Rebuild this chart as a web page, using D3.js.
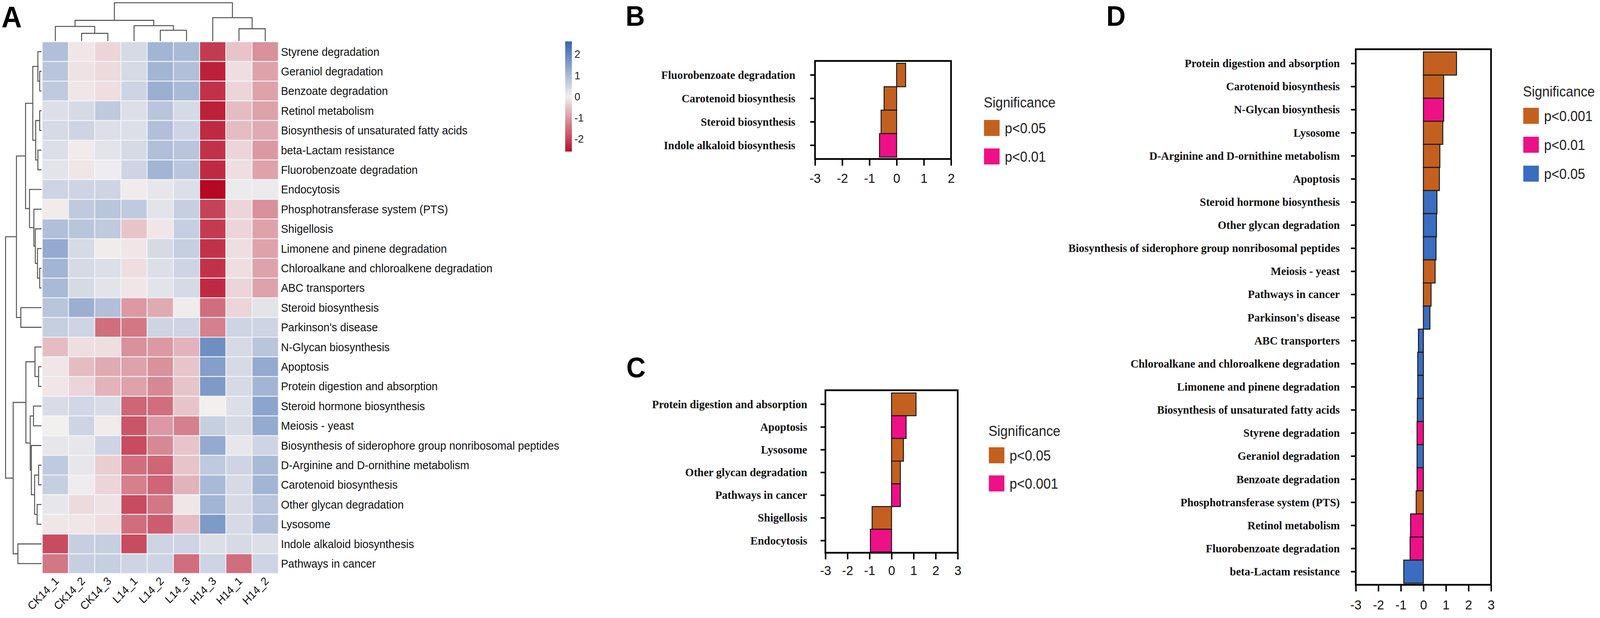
<!DOCTYPE html>
<html>
<head>
<meta charset="utf-8">
<script src="https://cdn.jsdelivr.net/npm/d3@7"></script>
<style>
  html, body { margin: 0; padding: 0; background: #ffffff; overflow: hidden; width: 100%; height: 100%; }
  svg { display: block; width: 100vw; height: 100vh; }
</style>
</head>
<body>
<svg id="chart" viewBox="0 0 4317 1582" preserveAspectRatio="none"></svg>
<script>
// ---------------- DATA ----------------
const heatRows = [
  "Styrene degradation", "Geraniol degradation", "Benzoate degradation", "Retinol metabolism",
  "Biosynthesis of unsaturated fatty acids", "beta-Lactam resistance", "Fluorobenzoate degradation",
  "Endocytosis", "Phosphotransferase system (PTS)", "Shigellosis", "Limonene and pinene degradation",
  "Chloroalkane and chloroalkene degradation", "ABC transporters", "Steroid biosynthesis",
  "Parkinson's disease", "N-Glycan biosynthesis", "Apoptosis", "Protein digestion and absorption",
  "Steroid hormone biosynthesis", "Meiosis - yeast",
  "Biosynthesis of siderophore group nonribosomal peptides", "D-Arginine and D-ornithine metabolism",
  "Carotenoid biosynthesis", "Other glycan degradation", "Lysosome", "Indole alkaloid biosynthesis",
  "Pathways in cancer"
];
const heatCols = ["CK14_1", "CK14_2", "CK14_3", "L14_1", "L14_2", "L14_3", "H14_3", "H14_1", "H14_2"];
const heatValues = [
  [0.9, -0.1, -0.3, 0.4, 1.1, 1.0, -2.1, -0.5, -1.1],
  [0.8, -0.15, -0.25, 0.4, 1.1, 0.9, -2.4, -0.2, -0.9],
  [0.7, -0.1, -0.2, 0.5, 1.2, 1.0, -2.2, -0.3, -0.9],
  [0.3, 0.4, 0.7, 0.3, 0.8, 0.4, -2.4, -0.6, -0.9],
  [0.4, 0.5, 0.3, 0.3, 0.9, 0.5, -2.3, -0.6, -0.8],
  [0.3, -0.05, 0.2, 0.4, 0.9, 0.8, -2.2, -0.3, -1.0],
  [0.2, -0.1, 0.05, 0.5, 1.1, 0.8, -2.3, -0.2, -0.9],
  [0.5, 0.5, 0.5, -0.05, 0.15, 0.3, -2.7, 0.1, 0.1],
  [-0.05, 0.7, 0.8, 0.7, 0.2, 0.6, -2.0, -0.3, -1.1],
  [0.9, 0.8, 0.7, -0.5, -0.1, 0.6, -2.1, -0.3, -0.9],
  [1.3, 0.4, -0.05, -0.1, 0.4, 0.6, -2.2, -0.2, -0.9],
  [1.1, 0.4, 0.3, -0.2, 0.3, 0.5, -2.2, -0.2, -0.9],
  [1.0, 0.4, 0.2, -0.1, 0.2, 0.4, -2.3, -0.3, -0.9],
  [0.8, 1.2, 0.9, -1.0, -0.8, -0.05, -1.5, -0.3, 0.2],
  [0.6, 0.5, -1.5, -1.4, 0.5, 0.5, -1.3, 0.5, 0.5],
  [-0.6, -0.2, -0.2, -1.1, -1.0, -0.7, 1.8, 0.4, 0.8],
  [-0.1, -0.6, -0.8, -0.9, -1.1, -0.5, 1.5, 0.4, 1.3],
  [-0.1, -0.3, -0.7, -0.9, -1.2, -0.5, 1.6, 0.4, 1.1],
  [0.35, 0.45, 0.35, -1.6, -1.5, -0.5, 0.0, 0.3, 1.4],
  [0.0, 0.5, -0.05, -1.8, -1.0, -1.3, 0.6, 0.4, 1.3],
  [0.15, 0.15, 0.5, -1.9, -1.2, -0.5, 1.3, 0.15, 0.5],
  [0.7, 0.15, -0.4, -1.5, -1.6, -0.5, 0.7, 0.5, 1.0],
  [0.6, 0.05, -0.3, -1.3, -1.6, -0.7, 1.0, 0.4, 1.1],
  [0.15, -0.25, -0.15, -1.9, -1.4, -0.1, 1.1, 0.4, 0.8],
  [-0.1, -0.1, -0.2, -1.5, -1.7, -0.6, 1.6, 0.4, 0.9],
  [-1.9, 0.6, 0.6, -1.9, 0.5, 0.5, 0.3, 0.4, 0.3],
  [-1.4, 0.6, 0.6, 0.5, 0.5, -1.5, 0.5, -1.5, 0.5]
];
// hclust-style merges: [childA, childB, height]; negative = leaf (1-based), positive = earlier merge
const rowMerges = [
  [-2, -3, 5], [-1, 1, 10], [-4, -5, 5], [-6, -7, 10], [3, 4, 16], [2, 5, 24],
  [-12, -13, 5], [-11, 7, 11], [-10, 8, 17], [-9, 9, 21], [-8, 10, 33], [6, 11, 44],
  [-14, -15, 57], [12, 13, 69],
  [-17, -18, 8], [-16, 15, 18], [-19, -20, 22], [-22, -23, 8], [-24, -25, 12], [18, 19, 19],
  [-21, 20, 28], [17, 21, 31], [16, 22, 43], [-26, -27, 65], [23, 24, 78], [14, 25, 99]
];
const colMerges = [
  [-2, -3, 20], [-1, 1, 38], [-5, -6, 28], [-4, 3, 40], [2, 4, 54],
  [-8, -9, 32], [-7, 6, 61], [5, 7, 100]
];
const colorbarTicks = [2, 1, 0, -1, -2];

// Panel B
const bNames = ["Fluorobenzoate degradation", "Carotenoid biosynthesis", "Steroid biosynthesis", "Indole alkaloid biosynthesis"];
const bValues = [0.33, -0.46, -0.57, -0.63];
const bSig = [0, 0, 0, 1];
const bSigLabels = ["p<0.05", "p<0.01"];
const bTicks = [-3, -2, -1, 0, 1, 2];

// Panel C
const cNames = ["Protein digestion and absorption", "Apoptosis", "Lysosome", "Other glycan degradation",
  "Pathways in cancer", "Shigellosis", "Endocytosis"];
const cValues = [1.11, 0.66, 0.54, 0.40, 0.40, -0.88, -0.96];
const cSig = [0, 1, 0, 0, 1, 0, 1];
const cSigLabels = ["p<0.05", "p<0.001"];
const cTicks = [-3, -2, -1, 0, 1, 2, 3];

// Panel D
const dNames = ["Protein digestion and absorption", "Carotenoid biosynthesis", "N-Glycan biosynthesis",
  "Lysosome", "D-Arginine and D-ornithine metabolism", "Apoptosis", "Steroid hormone biosynthesis",
  "Other glycan degradation", "Biosynthesis of siderophore group nonribosomal peptides", "Meiosis - yeast",
  "Pathways in cancer", "Parkinson's disease", "ABC transporters", "Chloroalkane and chloroalkene degradation",
  "Limonene and pinene degradation", "Biosynthesis of unsaturated fatty acids", "Styrene degradation",
  "Geraniol degradation", "Benzoate degradation", "Phosphotransferase system (PTS)", "Retinol metabolism",
  "Fluorobenzoate degradation", "beta-Lactam resistance"];
const dValues = [1.47, 0.90, 0.90, 0.86, 0.73, 0.71, 0.60, 0.58, 0.56, 0.52, 0.34, 0.29,
  -0.22, -0.25, -0.25, -0.27, -0.28, -0.28, -0.28, -0.32, -0.57, -0.59, -0.87];
const dSig = [0, 0, 1, 0, 0, 0, 2, 2, 2, 0, 0, 2, 2, 2, 2, 2, 1, 2, 1, 0, 1, 1, 2];
const dSigLabels = ["p<0.001", "p<0.01", "p<0.05"];
const dTicks = [-3, -2, -1, 0, 1, 2, 3];

const sigColors = ["#C4601F", "#EE1087", "#3A6DBF"];

// ---------------- DRAW ----------------
const svg = d3.select("#chart");
const SANS = "'Liberation Sans', Arial, Helvetica, sans-serif";
const SERIF = "'Liberation Serif', 'Times New Roman', serif";

// Panel letters
[["A", 4, 70, 76], ["B", 1688, 66, 72], ["C", 1690, 966, 72], ["D", 2985, 66, 72]].forEach(([t, x, y, s]) => {
  svg.append("text").attr("x", x).attr("y", y).text(t)
    .attr("font-family", SANS).attr("font-weight", "bold").attr("font-size", s).attr("fill", "#000");
});

// ---- Heatmap (panel A) ----
const hm = { left: 114, top: 107, right: 751, bottom: 1468 };
const xCol = d3.scaleBand().domain(heatCols).range([hm.left, hm.right]);
const yRow = d3.scaleBand().domain(heatRows).range([hm.top, hm.bottom]);
const heatColor = d3.scaleLinear().domain([-2.6, 0, 2.6]).range(["#B8102B", "#F2EFEF", "#3565AE"]);

const cells = [];
heatValues.forEach((row, i) => row.forEach((v, j) => cells.push({ r: heatRows[i], c: heatCols[j], v })));
const gHeat = svg.append("g");
gHeat.selectAll("rect").data(cells).join("rect")
  .attr("x", d => xCol(d.c)).attr("y", d => yRow(d.r))
  .attr("width", xCol.bandwidth()).attr("height", yRow.bandwidth())
  .attr("fill", d => heatColor(d.v))
  .attr("stroke", "#F3F5FA").attr("stroke-width", 2.2);

// row labels
gHeat.selectAll("text.rowlab").data(heatRows).join("text").attr("class", "rowlab")
  .attr("x", hm.right + 7).attr("y", d => yRow(d) + yRow.bandwidth() / 2).attr("dy", "0.35em")
  .attr("font-family", SANS).attr("font-size", 29.5).attr("fill", "#111").text(d => d);

// column labels
gHeat.selectAll("text.collab").data(heatCols).join("text").attr("class", "collab")
  .attr("transform", d => `translate(${xCol(d) + xCol.bandwidth() / 2 + 4},${hm.bottom + 14}) rotate(-45)`)
  .attr("dy", "0.35em").attr("text-anchor", "end")
  .attr("font-family", SANS).attr("font-size", 29).attr("fill", "#111").text(d => d);

// dendrograms
function drawDendro(merges, leafPos, hPos, orient) {
  const nodes = [];
  const line = d3.line();
  const get = i => (i < 0 ? { p: leafPos(-i - 1), h: 0 } : nodes[i - 1]);
  const pt = (p, h) => (orient === "col" ? [p, hPos(h)] : [hPos(h), p]);
  merges.forEach(([a, b, h]) => {
    const A = get(a), B = get(b);
    svg.append("path")
      .attr("d", line([pt(A.p, A.h), pt(A.p, h), pt(B.p, h), pt(B.p, B.h)]))
      .attr("fill", "none").attr("stroke", "#555").attr("stroke-width", 2.6);
    nodes.push({ p: (A.p + B.p) / 2, h });
  });
}
const colH = d3.scaleLinear().domain([0, 100]).range([hm.top - 2, 7]);
const rowH = d3.scaleLinear().domain([0, 99]).range([hm.left - 2, 15]);
drawDendro(colMerges, i => xCol(heatCols[i]) + xCol.bandwidth() / 2, colH, "col");
drawDendro(rowMerges, i => yRow(heatRows[i]) + yRow.bandwidth() / 2, rowH, "row");

// colorbar
const cb = { x: 1525, w: 18, top: 106, bottom: 388 };
const cbScale = d3.scaleLinear().domain([-2.6, 2.6]).range([cb.bottom, cb.top]);
const grad = svg.append("defs").append("linearGradient").attr("id", "cbgrad")
  .attr("x1", 0).attr("y1", 1).attr("x2", 0).attr("y2", 0);
d3.range(0, 1.0001, 0.05).forEach(t => {
  grad.append("stop").attr("offset", t).attr("stop-color", heatColor(-2.6 + 5.2 * t));
});
svg.append("rect").attr("x", cb.x).attr("y", cb.top).attr("width", cb.w)
  .attr("height", cb.bottom - cb.top).attr("fill", "url(#cbgrad)");
svg.selectAll("text.cbt").data(colorbarTicks).join("text").attr("class", "cbt")
  .attr("x", cb.x + cb.w + 7).attr("y", d => cbScale(d)).attr("dy", "0.35em")
  .attr("font-family", SANS).attr("font-size", 28).attr("fill", "#222").text(d => String(d));

// ---- bar panels ----
function barPanel(cfg) {
  const g = svg.append("g");
  const x = d3.scaleLinear().domain(cfg.domain).range([cfg.x0, cfg.x1]);
  const y = d3.scaleBand().domain(cfg.names).range(cfg.band);
  const data = cfg.names.map((n, i) => ({ n, v: cfg.values[i], s: cfg.sig[i] }));

  g.selectAll("rect.bar").data(data).join("rect").attr("class", "bar")
    .attr("x", d => Math.min(x(0), x(d.v))).attr("width", d => Math.abs(x(d.v) - x(0)))
    .attr("y", d => y(d.n)).attr("height", y.bandwidth())
    .attr("fill", d => sigColors[d.s]).attr("stroke", "#1a1a1a").attr("stroke-width", 2.6);

  g.append("rect").attr("x", cfg.x0).attr("y", cfg.y0)
    .attr("width", cfg.x1 - cfg.x0).attr("height", cfg.y1 - cfg.y0)
    .attr("fill", "none").attr("stroke", "#000").attr("stroke-width", 4.5);

  const ax = g.append("g").attr("transform", `translate(0,${cfg.y1})`)
    .call(d3.axisBottom(x).tickValues(cfg.ticks).tickSize(17).tickPadding(cfg.xpad).tickFormat(d => String(d)));
  ax.select(".domain").remove();
  ax.selectAll("line").attr("stroke", "#000").attr("stroke-width", 4);
  ax.selectAll("text").attr("font-family", SANS).attr("font-size", 34).attr("fill", "#111");

  const ay = g.append("g").attr("transform", `translate(${cfg.x0},0)`)
    .call(d3.axisLeft(y).tickSize(13).tickPadding(cfg.ypad));
  ay.select(".domain").remove();
  ay.selectAll("line").attr("stroke", "#000").attr("stroke-width", 4);
  ay.selectAll("text").attr("font-family", SERIF).attr("font-weight", "bold")
    .attr("font-size", 30).attr("fill", "#111");

  // legend
  const L = cfg.legend;
  g.append("text").attr("x", L.x).attr("y", L.y).attr("dy", "0.35em")
    .attr("font-family", SANS).attr("font-size", 36).attr("fill", "#222").text("Significance");
  cfg.labels.forEach((lab, i) => {
    const cy = L.y + L.first + i * L.step;
    g.append("rect").attr("x", L.x + 1).attr("y", cy - 21).attr("width", 42).attr("height", 41)
      .attr("fill", cfg.colors[i]);
    g.append("text").attr("x", L.x + 57).attr("y", cy).attr("dy", "0.35em")
      .attr("font-family", SANS).attr("font-size", 36).attr("fill", "#222").text(lab);
  });
}

barPanel({
  names: bNames, values: bValues, sig: bSig, labels: bSigLabels, colors: [sigColors[0], sigColors[1]],
  domain: [-3, 2], ticks: bTicks, x0: 2199, x1: 2566, y0: 156, y1: 407, band: [162, 402],
  xpad: 20, ypad: 40, legend: { x: 2654, y: 262, first: 66, step: 73 }
});
barPanel({
  names: cNames, values: cValues, sig: cSig, labels: cSigLabels, colors: [sigColors[0], sigColors[1]],
  domain: [-3, 3], ticks: cTicks, x0: 2227, x1: 2584, y0: 999, y1: 1415, band: [1006, 1413],
  xpad: 16, ypad: 36, legend: { x: 2667, y: 1103, first: 63, step: 72 }
});
barPanel({
  names: dNames, values: dValues, sig: dSig, labels: dSigLabels, colors: sigColors,
  domain: [-3, 3], ticks: dTicks, x0: 3658, x1: 4023, y0: 126, y1: 1497, band: [133, 1493],
  xpad: 22, ypad: 30, legend: { x: 4109, y: 234, first: 63, step: 74 }
});
</script>
</body>
</html>
